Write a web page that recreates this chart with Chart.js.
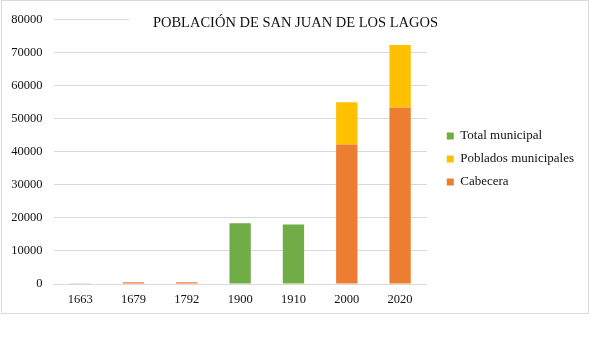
<!DOCTYPE html>
<html lang="es">

<head>
    <meta charset="UTF-8">
    <script src="https://cdn.jsdelivr.net/npm/chart.js"></script>
    <title>Población de San Juan de los Lagos</title>
    <style>
        html, body { margin: 0; padding: 0; background: #fff; }
        .marco {
            position: absolute; left: 1px; top: 0; width: 588px; height: 314px;
            box-sizing: border-box; border: 1px solid #d9d9d9;
        }
    </style>
</head>

<body>
    <div class="marco">
        <canvas id="poblacionChart"></canvas>
    </div>
    <script>
        // Datos
        const anios = ['1663', '1679', '1792', '1900', '1910', '2000', '2020'];
        const cabecera = [100, 500, 500, null, null, 42200, 53300];
        const pobladosMunicipales = [null, null, null, null, null, 12800, 19000];
        const totalMunicipal = [null, null, null, 18400, 18000, null, null];
        const titulo = 'POBLACIÓN DE SAN JUAN DE LOS LAGOS';

        Chart.defaults.font.family = "'Liberation Serif', 'Times New Roman', serif";
        Chart.defaults.color = '#111';

        // titulo dibujado dentro del area del grafico (como en Excel), con fondo blanco
        const tituloInterno = {
            id: 'tituloInterno',
            afterDraw(chart) {
                const ctx = chart.ctx;
                ctx.save();
                ctx.fillStyle = '#fff';
                ctx.fillRect(127, 6, 334, 30);
                ctx.font = "14.5px 'Liberation Serif', serif";
                ctx.fillStyle = '#111';
                ctx.textAlign = 'center';
                ctx.textBaseline = 'middle';
                ctx.fillText(titulo, 293.5, 22);
                ctx.restore();
            }
        };

        new Chart(document.getElementById('poblacionChart'), {
            type: 'bar',
            data: {
                labels: anios,
                datasets: [
                    { label: 'Cabecera', data: cabecera, backgroundColor: '#ED7D31' },
                    { label: 'Poblados municipales', data: pobladosMunicipales, backgroundColor: '#FFC000' },
                    { label: 'Total municipal', data: totalMunicipal, backgroundColor: '#70AD47' }
                ]
            },
            options: {
                responsive: true,
                maintainAspectRatio: false,
                animation: false,
                layout: { padding: { top: 6, bottom: 2, left: 9, right: 4 } },
                datasets: { bar: { barPercentage: 0.4, categoryPercentage: 1 } },
                plugins: {
                    title: { display: false },
                    tooltip: { enabled: false },
                    legend: {
                        position: 'right',
                        reverse: true,
                        maxWidth: 170,
                        labels: { boxWidth: 7, boxHeight: 7, padding: 10, font: { size: 13 }, color: '#111' }
                    }
                },
                scales: {
                    x: {
                        stacked: true,
                        grid: { display: false, drawTicks: false },
                        border: { color: '#d9d9d9' },
                        ticks: { padding: 8, font: { size: 12.5 } },
                        afterFit(s) { s.height = 27; }
                    },
                    y: {
                        stacked: true,
                        min: 0,
                        max: 80000,
                        grid: { color: '#d9d9d9', drawTicks: false },
                        border: { display: false },
                        ticks: { stepSize: 10000, padding: 11, font: { size: 12.5 }, callback: v => String(v) },
                        afterFit(s) { s.width = 42.5; }
                    },
                    derecha: {
                        position: 'right',
                        display: true,
                        grid: { display: false },
                        border: { display: false },
                        ticks: { display: false },
                        afterFit(s) { s.width = 10; }
                    }
                }
            },
            plugins: [tituloInterno]
        });
    </script>
</body>

</html>
